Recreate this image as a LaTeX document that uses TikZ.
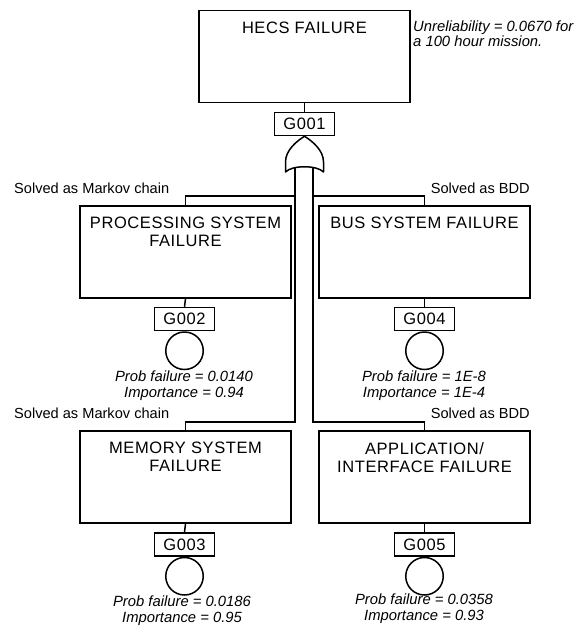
\documentclass[tikz,border=0pt]{standalone}
\usepackage{fontspec}
\setmainfont{Liberation Sans}
\newfontfamily\capsfont[LetterSpace=3.5]{Liberation Sans}
\begin{document}
\begin{tikzpicture}[x=1pt,y=-1pt,
  conn/.style={line width=1.5pt},
  box/.style={draw, line width=1.5pt, minimum width=211pt, minimum height=92pt, inner sep=0pt},
  gbox/.style={draw, line width=1.5pt, minimum width=60pt, minimum height=23pt, inner sep=0pt,
    font=\capsfont\fontsize{16.5}{18}\selectfont},
  evt/.style={draw, circle, line width=1.5pt, minimum size=37.5pt, inner sep=0pt},
  title/.style={anchor=north, inner sep=0pt, align=center, font=\capsfont\fontsize{16.5}{18}\selectfont},
  note/.style={font=\itshape\fontsize{14.8}{16.5}\selectfont, inner sep=0pt, anchor=base},
  solved/.style={font=\fontsize{14.6}{16}\selectfont, inner sep=0pt, anchor=base west}]
\useasboundingbox (0,0) rectangle (574,626);

% top event
\node[box] (hecs) at (304.5,56.5) {};
\path (hecs.north) ++(0,12) node[title] (t0) {HECS FAILURE};
\node[gbox] (g1) at (304.5,124) {G001};
\node[note, anchor=base west] (u1) at (413,31.5) {Unreliability = 0.0670 for};
\node[note, anchor=base west] (u2) at (413,47) {a 100 hour mission.};

% subsystem boxes
\node[box] (proc) at (185.5,252) {};
\node[box] (bus) at (424.5,252) {};
\node[box] (mem) at (185.5,477) {};
\node[box] (app) at (424.5,477) {};
\path (proc.north) ++(0,12) node[title] (t1) {PROCESSING SYSTEM\\FAILURE};
\path (bus.north) ++(0,12) node[title] (t2) {BUS SYSTEM FAILURE};
\path (mem.north) ++(0,12) node[title] (t3) {MEMORY SYSTEM\\FAILURE};
\path (app.north) ++(0,12) node[title] (t4) {APPLICATION/\\INTERFACE FAILURE};

% gate labels
\node[gbox] (g2) at (184.5,319) {G002};
\node[gbox] (g4) at (424.5,319) {G004};
\node[gbox] (g3) at (184.5,544.5) {G003};
\node[gbox] (g5) at (424.5,544.5) {G005};

% basic events
\node[evt, anchor=north] (e2) at (g2.south) {};
\node[evt, anchor=north] (e4) at (g4.south) {};
\node[evt, anchor=north] (e3) at (g3.south) {};
\node[evt, anchor=north] (e5) at (g5.south) {};

% notes
\node[solved] (s1) at (14,193) {Solved as Markov chain};
\node[solved, anchor=base east] (s2) at (530,193) {Solved as BDD};
\node[solved] (s3) at (14,418) {Solved as Markov chain};
\node[solved, anchor=base east] (s4) at (530,418) {Solved as BDD};

\node[note] (p2) at (184,381) {Prob failure = 0.0140};
\node[note] (i2) at (184,397.5) {Importance = 0.94};
\node[note] (p4) at (424,381) {Prob failure = 1E-8};
\node[note] (i4) at (424,397.5) {Importance = 1E-4};
\node[note] (p3) at (182,606) {Prob failure = 0.0186};
\node[note] (i3) at (182,622.5) {Importance = 0.95};
\node[note] (p5) at (424,604) {Prob failure = 0.0358};
\node[note] (i5) at (424,620.5) {Importance = 0.93};

% connectors
\draw[conn] (hecs.south) -- (g1.north);
\draw[conn] (proc.south) -- (g2.north);
\draw[conn] (bus.south) -- (g4.north);
\draw[conn] (mem.south) -- (g3.north);
\draw[conn] (app.south) -- (g5.north);

\coordinate (gL) at (295,162);
\coordinate (gR) at (313,162);
\draw[conn] (gL) -- ++(0,34) -| (proc.north);
\draw[conn] (gL) -- ++(0,260) -| (mem.north);
\draw[conn] (gR) -- ++(0,34) -| (bus.north);
\draw[conn] (gR) -- ++(0,260) -| (app.north);

% OR gate
\draw[conn, fill=white, line join=round] (g1.south)
  .. controls (297,141) and (285.5,150) .. (285.5,162) -- (285.5,172)
  .. controls (292,165) and (317,165) .. (323.5,172) -- (323.5,162)
  .. controls (323.5,150) and (312,141) .. (g1.south) -- cycle;
\end{tikzpicture}
\end{document}
